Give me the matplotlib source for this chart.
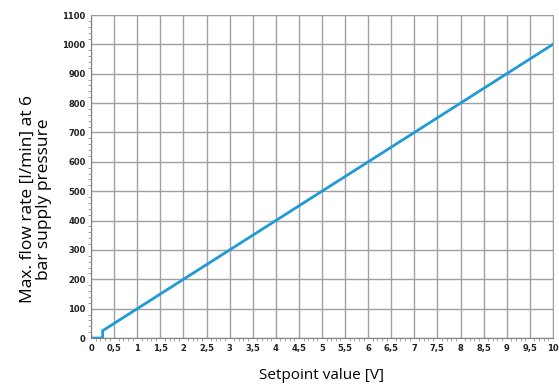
import matplotlib
matplotlib.use("Agg")
import matplotlib.pyplot as plt
import numpy as np
from matplotlib.ticker import MultipleLocator

# characteristic curve: dead band up to 0.25 V, then linear
volt = [0, 0.25, 0.25, 10]
flow = [0, 0, 25, 1000]

xticks = np.arange(0, 10.01, 0.5)
xlabels = ["%g" % v for v in xticks]
xlabels = [s.replace(".", ",") for s in xlabels]
yticks = np.arange(0, 1101, 100)

fig = plt.figure(figsize=(5.59, 3.85), dpi=100)
ax = fig.add_axes([0.163, 0.122, 0.826, 0.839])

ax.plot(volt, flow, color="#1f9ad6", lw=2, solid_joinstyle="miter")

ax.set_xlim(0, 10)
ax.set_ylim(0, 1100)
ax.set_xticks(xticks)
ax.set_xticklabels(xlabels)
ax.set_yticks(yticks)
ax.xaxis.set_minor_locator(MultipleLocator(0.1))
ax.yaxis.set_minor_locator(MultipleLocator(20))
ax.grid(True, which="major", color="#a0a0a0", lw=1)
ax.set_axisbelow(True)
for s in ax.spines.values():
    s.set_color("#a0a0a0")
ax.spines["left"].set_color("#808080")
ax.spines["bottom"].set_color("#808080")
ax.tick_params(which="major", length=0, labelsize=6, pad=4, labelcolor="#222222")
ax.tick_params(which="minor", length=2, color="#909090", direction="out")
for lab in ax.get_xticklabels() + ax.get_yticklabels():
    lab.set_fontweight("bold")

ax.set_xlabel("Setpoint value [V]", fontsize=11, family="Open Sans", labelpad=11)
ax.set_ylabel("Max. flow rate [l/min] at 6\nbar supply pressure", fontsize=12.5,
              family="Open Sans", linespacing=1.0)
ax.yaxis.set_label_coords(-0.085, 0.43)

fig.savefig("out.png", dpi=100)
